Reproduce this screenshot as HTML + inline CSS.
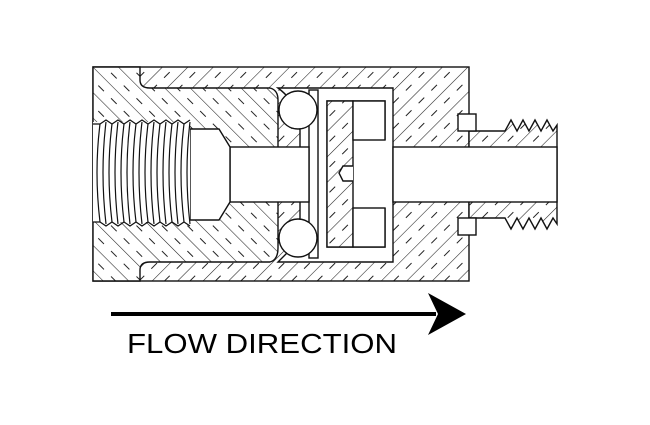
<!DOCTYPE html>
<html><head><meta charset="utf-8"><style>
html,body{margin:0;padding:0;background:#fff;}
svg{display:block;}
</style></head><body>
<svg width="650" height="425" viewBox="0 0 650 425" xmlns="http://www.w3.org/2000/svg">
<defs>
<pattern id="h1" patternUnits="userSpaceOnUse" width="18" height="18" patternTransform="rotate(45)">
<rect width="18" height="18" fill="#fff"/>
<line x1="0" y1="0" x2="0" y2="18" stroke="#222" stroke-width="1.1"/>
<line x1="9" y1="3" x2="9" y2="11" stroke="#222" stroke-width="1"/>
</pattern>
<pattern id="h2" patternUnits="userSpaceOnUse" width="18" height="18" patternTransform="rotate(-45)">
<rect width="18" height="18" fill="#fff"/>
<line x1="0" y1="0" x2="0" y2="18" stroke="#222" stroke-width="1.1"/>
<line x1="9" y1="4" x2="9" y2="12" stroke="#222" stroke-width="1"/>
</pattern>
</defs>
<g stroke="#111" stroke-width="1.4" fill="none">
<rect x="93" y="67" width="376" height="214" fill="url(#h1)"/>
<path d="M469 131 L505 131 L511 120 L517 131 L523 120 L529 131 L535 120 L541 131 L547 120 L553 131 L557 125 L557 224 L553 218 L547 229 L541 218 L535 229 L529 218 L523 229 L517 218 L511 229 L505 218 L469 218 Z" fill="url(#h1)"/>
<path d="M93 67 L140 67 L140 80 Q140 88 150 88 L270 88 Q278 90 278 100 L278 248 Q278 260 270 262 L150 262 Q140 262 140 270 L140 281 L93 281 Z" fill="url(#h2)"/>
<path d="M278 88 L393 88 L393 262 L278 262 Q285 255 290 250 L300 218 L300 130 L290 100 Q285 93 278 88 Z" fill="#fff"/>
<rect x="309" y="90" width="9" height="168" fill="#fff"/>
<circle cx="298" cy="110" r="19" fill="#fff"/>
<circle cx="298" cy="238" r="19" fill="#fff"/>
<rect x="327" y="101" width="58" height="146" fill="#fff" stroke="none"/>
<path d="M385 140 L385 101 L327 101 L327 247 L385 247 L385 208"/>
<rect x="327" y="101" width="26" height="146" fill="url(#h1)"/>
<rect x="353" y="101" width="32" height="39" fill="#fff"/>
<rect x="353" y="208" width="32" height="39" fill="#fff"/>
<path d="M353 166 L343 166 L339 173 L343 181 L353 181" fill="#fff"/>
<rect x="230" y="147" width="79" height="55" fill="#fff"/>
<path d="M190 129 L219 129 L230 147 L230 202 L219 220 L190 220 Z" fill="#fff"/>
<rect x="393" y="147" width="164" height="55" fill="#fff"/>
<rect x="93" y="122" width="97" height="100" fill="#fff" stroke="none"/>
<g stroke-width="1.2">
<path d="M100 124 Q94 172 100 222 M112 124 Q106 172 112 222 M124 124 Q118 172 124 222 M136 124 Q130 172 136 222 M148 124 Q142 172 148 222 M160 124 Q154 172 160 222 M172 124 Q166 172 172 222 M184 124 Q178 172 184 222"/>
<path d="M106 122 Q100 172 106 224 M118 122 Q112 172 118 224 M130 122 Q124 172 130 224 M142 122 Q136 172 142 224 M154 122 Q148 172 154 224 M166 122 Q160 172 166 224 M178 122 Q172 172 178 224 M190 122 Q184 172 190 224"/>
<path d="M93 124 L100 124 L106 120 L112 124 L118 120 L124 124 L130 120 L136 124 L142 120 L148 124 L154 120 L160 124 L166 120 L172 124 L178 120 L184 124 L190 120"/>
<path d="M93 222 L100 222 L106 226 L112 222 L118 226 L124 222 L130 226 L136 222 L142 226 L148 222 L154 226 L160 222 L166 226 L172 222 L178 226 L184 222 L190 226"/>
</g>
<rect x="458" y="114" width="18" height="17" fill="#fff"/>
<rect x="458" y="218" width="18" height="17" fill="#fff"/>
</g>
<rect x="111" y="312" width="325" height="4" fill="#000"/>
<path d="M428 293 L466 314 L428 335 L438 314 Z" fill="#000"/>
<text x="127" y="353" font-family="Liberation Sans, Arial, sans-serif" font-size="28" textLength="270" lengthAdjust="spacingAndGlyphs" fill="#000">FLOW DIRECTION</text>
</svg>
</body></html>
